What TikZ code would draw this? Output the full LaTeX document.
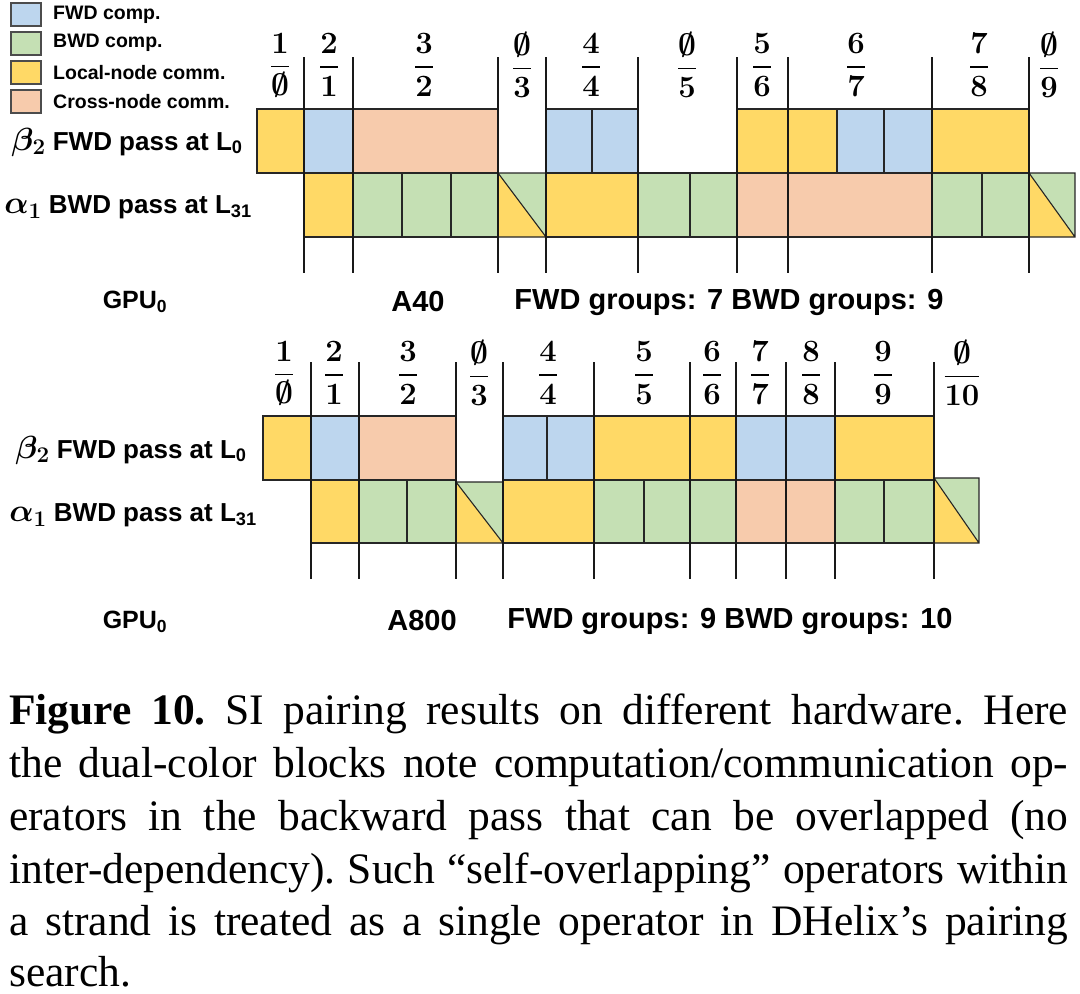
\documentclass[tikz,border=0pt]{standalone}
\usepackage{fix-cm}
\usepackage{amsmath,amssymb,bm}
\usepackage[no-math]{fontspec}
\setmainfont{Liberation Serif}
\setsansfont{Liberation Sans}
\usepackage{xcolor}
\usetikzlibrary{positioning}

\definecolor{fwdc}{HTML}{BDD6EE}
\definecolor{bwdc}{HTML}{C5E0B4}
\definecolor{localc}{HTML}{FFD966}
\definecolor{crossc}{HTML}{F7CBAC}

\begin{document}
\begin{tikzpicture}[
    x=1pt, y=-1pt,
    every node/.style={inner sep=0pt},
    cell/.style={draw=black!85, line width=1.1pt},
    sepline/.style={line width=1.8pt, black!90},
    legbox/.style={draw=black!70, line width=2pt, minimum width=30pt, minimum height=23pt},
    legtxt/.style={font=\sffamily\bfseries\fontsize{19.5}{21}\selectfont, anchor=west},
    rowlbl/.style={font=\sffamily\bfseries\fontsize{26}{28}\selectfont},
    botlbl/.style={font=\sffamily\bfseries\fontsize{29}{31}\selectfont},
    fraclbl/.style={font=\fontsize{31}{33}\selectfont},
    capline/.style={font=\fontsize{43.5}{52}\selectfont\frenchspacing, anchor=base west},
]
\fill[white] (0,0) rectangle (1080,994);

% --------- Legend ----------
\node[legbox, fill=fwdc]    (lgfwd)   at (26,14.5) {};
\node[legtxt, right=11pt of lgfwd]   (lgfwdt)   {FWD comp.};
\node[legbox, fill=bwdc]    (lgbwd)   at (26,43)   {};
\node[legtxt, right=11pt of lgbwd]   (lgbwdt)   {BWD comp.};
\node[legbox, fill=localc]  (lglocal) at (26,72.5) {};
\node[legtxt, right=11pt of lglocal] (lglocalt) {Local-node comm.};
\node[legbox, fill=crossc]  (lgcross) at (26,101.5) {};
\node[legtxt, right=11pt of lgcross] (lgcrosst) {Cross-node comm.};

% --------- A40 panel ----------
% FWD row
\foreach \a/\b/\c in {257/304/localc, 304/353/fwdc, 353/498/crossc,
                      546/592/fwdc, 592/638/fwdc, 737/788/localc, 788/837/localc,
                      837/884/fwdc, 884/932/fwdc, 932/1029/localc}
  \draw[cell, fill=\c] (\a,109) rectangle (\b,173);
% BWD row
\foreach \a/\b/\c in {304/353/localc, 353/402/bwdc, 402/451/bwdc, 451/498/bwdc,
                      546/638/localc, 638/690/bwdc, 690/737/bwdc, 737/788/crossc,
                      788/932/crossc, 932/982/bwdc, 982/1029/bwdc}
  \draw[cell, fill=\c] (\a,173) rectangle (\b,237);
% dual-color blocks
\foreach \a/\b/\t/\u in {498/546/173/237, 1029/1075/173/237}{
  \fill[bwdc] (\a,\t) rectangle (\b,\u);
  \fill[localc] (\a,\t) -- (\b,\u) -- (\a,\u) -- cycle;
  \draw[cell] (\a,\t) rectangle (\b,\u) (\a,\t) -- (\b,\u);
}
% group boundaries
\foreach \x in {304,353,498,546,638,737,788,932,1029}
  \draw[sepline] (\x,57) -- (\x,273);
% group labels
\foreach \x/\n/\d [count=\i] in {280/1/\emptyset, 329/2/1, 424/3/2, 522/\emptyset/3,
                                 591/4/4, 687/\emptyset/5, 762/5/6, 856/6/7,
                                 979/7/8, 1049/\emptyset/9}
  \node[fraclbl] (ga\i) at (\x,65) {$\dfrac{\bm{\n}}{\bm{\d}}$};

\node[rowlbl] (fwda) at (127,142) {{\fontsize{32}{34}\selectfont\boldmath$\beta_{\mathbf{2}}$} FWD pass at L\textsubscript{0}};
\node[rowlbl] (bwda) at (128,207) {{\fontsize{32}{34}\selectfont\boldmath$\alpha_{\mathbf{1}}$} BWD pass at L\textsubscript{31}};
\node[botlbl, font=\sffamily\bfseries\fontsize{25}{27}\selectfont] (gpua) at (135,302) {GPU\textsubscript{0}};
\node[botlbl] (hwa)  at (418,302) {A40};
\node[botlbl] (grpa) at (729,302) {FWD groups: 7 BWD groups: 9};

% --------- A800 panel ----------
% FWD row
\foreach \a/\b/\c in {263/311/localc, 311/359/fwdc, 359/456/crossc,
                      503/547/fwdc, 547/594/fwdc, 594/690/localc, 690/736/localc,
                      736/786/fwdc, 786/835/fwdc, 835/934/localc}
  \draw[cell, fill=\c] (\a,416) rectangle (\b,480);
% BWD row
\foreach \a/\b/\c in {311/359/localc, 359/407/bwdc, 407/456/bwdc, 503/594/localc,
                      594/644/bwdc, 644/690/bwdc, 690/736/bwdc, 736/786/crossc,
                      786/835/crossc, 835/884/bwdc, 884/934/bwdc}
  \draw[cell, fill=\c] (\a,480) rectangle (\b,543);
% dual-color blocks
\foreach \a/\b/\t/\u in {456/503/482/543, 934/979/478/543}{
  \fill[bwdc] (\a,\t) rectangle (\b,\u);
  \fill[localc] (\a,\t) -- (\b,\u) -- (\a,\u) -- cycle;
  \draw[cell] (\a,\t) rectangle (\b,\u) (\a,\t) -- (\b,\u);
}
% group boundaries
\foreach \x in {311,359,456,503,594,690,736,786,835,934}
  \draw[sepline] (\x,362) -- (\x,579);
% group labels
\foreach \x/\n/\d [count=\i] in {284/1/\emptyset, 334/2/1, 408/3/2, 479/\emptyset/3,
                                 548/4/4, 644/5/5, 712/6/6, 760/7/7,
                                 811/8/8, 883/9/9, 962/\emptyset/10}
  \node[fraclbl] (gb\i) at (\x,373) {$\dfrac{\bm{\n}}{\bm{\d}}$};

\node[rowlbl] (fwdb) at (131,450) {{\fontsize{32}{34}\selectfont\boldmath$\beta_{\mathbf{2}}$} FWD pass at L\textsubscript{0}};
\node[rowlbl] (bwdb) at (133,515) {{\fontsize{32}{34}\selectfont\boldmath$\alpha_{\mathbf{1}}$} BWD pass at L\textsubscript{31}};
\node[botlbl, font=\sffamily\bfseries\fontsize{25}{27}\selectfont] (gpub) at (135,622) {GPU\textsubscript{0}};
\node[botlbl] (hwb)  at (422,621) {A800};
\node[botlbl] (grpb) at (730,621) {FWD groups: 9 BWD groups: 10};

% --------- Caption ----------
\node[capline] (cap1) at (9,724) {\makebox[1059pt][s]{\textbf{Figure 10.} SI pairing results on different hardware. Here}};
\node[capline] (cap2) at (9,777) {\makebox[1059pt][s]{the dual-color blocks note computation/communication op-}};
\node[capline] (cap3) at (9,830) {\makebox[1059pt][s]{erators in the backward pass that can be overlapped (no}};
\node[capline] (cap4) at (9,883) {\makebox[1059pt][s]{inter-dependency). Such “self-overlapping” operators within}};
\node[capline] (cap5) at (9,935) {\makebox[1059pt][s]{a strand is treated as a single operator in DHelix’s pairing}};
\node[capline] (cap6) at (9,986) {search.};

\end{tikzpicture}
\end{document}
